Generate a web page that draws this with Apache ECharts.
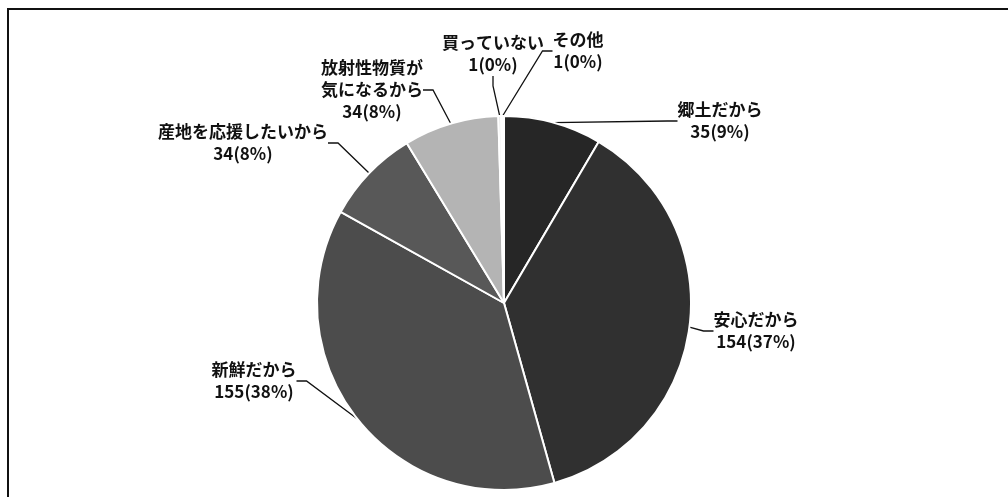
<!DOCTYPE html>
<html>
<head>
<meta charset="utf-8">
<script src="https://cdn.jsdelivr.net/npm/echarts@6/dist/echarts.min.js"></script>
<style>
  html, body { margin: 0; padding: 0; background: #fff; overflow: hidden; }
  #frame { position: absolute; left: 7px; top: 8px; width: 1100px; height: 600px; border-left: 2px solid #111; border-top: 2px solid #111; }
  #pie { position: absolute; left: 0; top: 0; width: 1008px; height: 497px; }
</style>
</head>
<body>
<div id="frame"></div>
<div id="pie"></div>
<script>
  // 回答データ
  const names = ['郷土だから', '安心だから', '新鮮だから', '産地を応援したいから', '放射性物質が\n気になるから', '買っていない', 'その他']
  const counts = [35, 154, 155, 34, 34, 1, 1]
  const colors = ['#262626', '#303030', '#4c4c4c', '#585858', '#b4b4b4', '#e2e2e2', '#ffffff']

  // ラベル位置 (画面座標)
  const labelPos = [
    [720, 121],
    [756, 331],
    [254, 381],
    [243, 143],
    [372, 90],
    [493, 54],
    [578, 51]
  ]

  var myChart = echarts.init(document.querySelector('#pie'))

  const option = {
    animation: false,
    series: [
      {
        type: 'pie',
        center: [504, 303],
        radius: 187,
        startAngle: 90,
        clockwise: true,
        percentPrecision: 0,
        avoidLabelOverlap: false,
        itemStyle: {
          borderColor: '#fff',
          borderWidth: 2
        },
        label: {
          show: true,
          formatter: '{b}\n{c}({d}%)',
          fontFamily: 'Noto Sans CJK JP',
          fontSize: 17,
          fontWeight: 'bold',
          lineHeight: 22,
          color: '#111'
        },
        labelLine: {
          show: true,
          length: 20,
          length2: 10,
          lineStyle: { color: '#111', width: 1.3 }
        },
        labelLayout: function (params) {
          const p = labelPos[params.dataIndex]
          return {
            x: p[0],
            y: p[1],
            align: 'center',
            verticalAlign: 'middle'
          }
        },
        emphasis: { disabled: true },
        data: names.map((v, i) => {
          return {
            name: v,
            value: counts[i],
            itemStyle: { color: colors[i] }
          }
        })
      }
    ]
  }

  myChart.setOption(option)
</script>
</body>
</html>
